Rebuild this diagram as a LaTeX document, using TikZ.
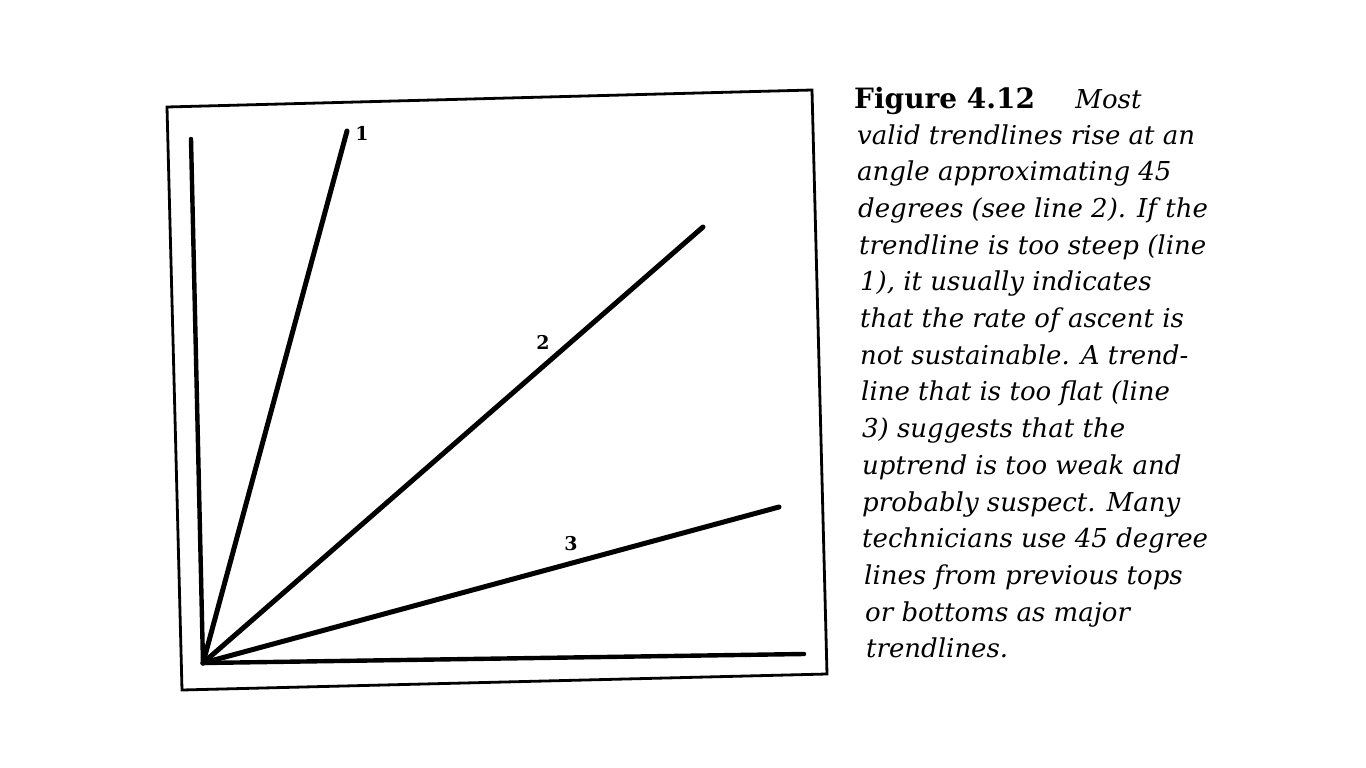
\documentclass[tikz,border=0pt]{standalone}
\usepackage{fontspec}
\setmainfont{DejaVu Serif}
\begin{document}
\begin{tikzpicture}[x=1pt,y=-1pt,
  framel/.style={line width=2.8pt,line join=miter},
  axisl/.style={line width=4.4pt,line cap=round},
  trendl/.style={line width=5pt,line cap=round},
  lbl/.style={font=\fontsize{19}{22}\selectfont\bfseries,inner sep=0pt},
  capl/.style={anchor=base west,inner sep=0pt,font=\fontsize{26}{30}\selectfont\itshape}]
\path[use as bounding box,fill=white] (0,0) rectangle (1366,768);
% frame (slightly rotated scan)
\coordinate (fTL) at (167,107);
\coordinate (fTR) at (812,90);
\coordinate (fBR) at (827,674);
\coordinate (fBL) at (182,690);
\draw[framel] (fTL) -- (fTR) -- (fBR) -- (fBL) -- cycle;
% axes
\coordinate (O) at (203,663);
\coordinate (ytop) at (191,139);
\coordinate (xend) at (804,654);
\draw[axisl] (ytop) -- (O) -- (xend);
% trendlines
\coordinate (t1) at (347,131);
\coordinate (t2) at (703,227);
\coordinate (t3) at (779,507);
\draw[trendl] (O) -- (t1);
\draw[trendl] (O) -- (t2);
\draw[trendl] (O) -- (t3);
\node[lbl] (l1) at (362,133) {1};
\node[lbl] (l2) at (543,342) {2};
\node[lbl] (l3) at (571,544) {3};
% caption
\node[capl] (c0) at (854,108) {{\fontsize{28}{30}\selectfont\bfseries\upshape Figure 4.12}\hspace{1.55em}Most};
\node[capl] (c1) at (857,144) {valid trendlines rise at an};
\node[capl] (c2) at (857,180.7) {angle approximating 45};
\node[capl] (c3) at (858,217.4) {degrees (see line 2). If the};
\node[capl] (c4) at (859,254.1) {trendline is too steep (line};
\node[capl] (c5) at (860,290.8) {1), it usually indicates};
\node[capl] (c6) at (860,327.5) {that the rate of ascent is};
\node[capl] (c7) at (860,364.2) {not sustainable. A trend-};
\node[capl] (c8) at (861,400.9) {line that is too flat (line};
\node[capl] (c9) at (862,437.6) {3) suggests that the};
\node[capl] (c10) at (862,474.3) {uptrend is too weak and};
\node[capl] (c11) at (862,511) {probably suspect. Many};
\node[capl] (c12) at (862,547.7) {technicians use 45 degree};
\node[capl] (c13) at (864,584.4) {lines from previous tops};
\node[capl] (c14) at (865,621.1) {or bottoms as major};
\node[capl] (c15) at (866,657.8) {trendlines.};
\end{tikzpicture}
\end{document}
